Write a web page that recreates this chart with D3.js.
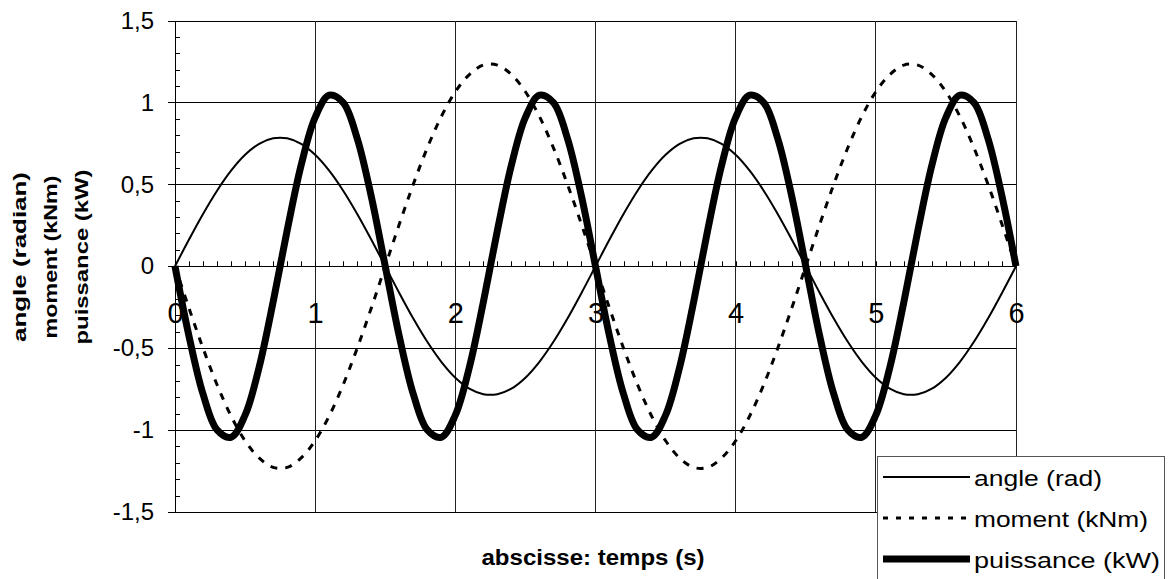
<!DOCTYPE html>
<html>
<head>
<meta charset="utf-8">
<script src="https://cdn.jsdelivr.net/npm/d3@7"></script>
<style>
body { margin: 0; background: #fff; }
text { font-family: "Liberation Sans", Arial, sans-serif; fill: #000; }
</style>
</head>
<body>
<div id="container1"></div>
<script>
// values, one point every 0.1 s
var time = [0, 0.1, 0.2, 0.3, 0.4, 0.5, 0.6, 0.7, 0.8, 0.9,
  1, 1.1, 1.2, 1.3, 1.4, 1.5, 1.6, 1.7, 1.8, 1.9,
  2, 2.1, 2.2, 2.3, 2.4, 2.5, 2.6, 2.7, 2.8, 2.9,
  3, 3.1, 3.2, 3.3, 3.4, 3.5, 3.6, 3.7, 3.8, 3.9,
  4, 4.1, 4.2, 4.3, 4.4, 4.5, 4.6, 4.7, 4.8, 4.9,
  5, 5.1, 5.2, 5.3, 5.4, 5.5, 5.6, 5.7, 5.8, 5.9, 6];

var angle = [0, 0.163, 0.319, 0.461, 0.583, 0.680, 0.747, 0.781, 0.781, 0.747, 0.680, 0.583, 0.461, 0.319, 0.163,
  0, -0.163, -0.319, -0.461, -0.583, -0.680, -0.747, -0.781, -0.781, -0.747, -0.680, -0.583, -0.461, -0.319, -0.163,
  0, 0.163, 0.319, 0.461, 0.583, 0.680, 0.747, 0.781, 0.781, 0.747, 0.680, 0.583, 0.461, 0.319, 0.163,
  0, -0.163, -0.319, -0.461, -0.583, -0.680, -0.747, -0.781, -0.781, -0.747, -0.680, -0.583, -0.461, -0.319, -0.163,
  0];

var moment = [0, -0.256, -0.500, -0.723, -0.914, -1.065, -1.170, -1.228, -1.228, -1.170, -1.065, -0.914, -0.723, -0.500, -0.256,
  0, 0.256, 0.500, 0.723, 0.914, 1.065, 1.170, 1.228, 1.228, 1.170, 1.065, 0.914, 0.723, 0.500, 0.256,
  0, -0.256, -0.500, -0.723, -0.914, -1.065, -1.170, -1.228, -1.228, -1.170, -1.065, -0.914, -0.723, -0.500, -0.256,
  0, 0.256, 0.500, 0.723, 0.914, 1.065, 1.170, 1.228, 1.228, 1.170, 1.065, 0.914, 0.723, 0.500, 0.256,
  0];

var puissance = [0, -0.427, -0.780, -0.999, -1.044, -0.909, -0.617, -0.218, 0.218, 0.617, 0.909, 1.044, 0.999, 0.780, 0.427,
  0, -0.427, -0.780, -0.999, -1.044, -0.909, -0.617, -0.218, 0.218, 0.617, 0.909, 1.044, 0.999, 0.780, 0.427,
  0, -0.427, -0.780, -0.999, -1.044, -0.909, -0.617, -0.218, 0.218, 0.617, 0.909, 1.044, 0.999, 0.780, 0.427,
  0, -0.427, -0.780, -0.999, -1.044, -0.909, -0.617, -0.218, 0.218, 0.617, 0.909, 1.044, 0.999, 0.780, 0.427,
  0];

var seriesNames = ["angle (rad)", "moment (kNm)", "puissance (kW)"];
var yTitleLines = ["angle (radian)", "moment (kNm)", "puissance (kW)"];
var xTitle = "abscisse: temps (s)";
var xTicks = [0, 1, 2, 3, 4, 5, 6];
var yTicks = [-1.5, -1, -0.5, 0, 0.5, 1, 1.5];

var width = 1169,
    height = 579,
    plotL = 175,
    plotR = 1016,
    plotT = 20.5,
    plotB = 512; // plot area box

var svg, xScale, yScale, fr, line;

xScale = d3.scaleLinear().domain([0, 6]).range([plotL, plotR]);
yScale = d3.scaleLinear().domain([-1.5, 1.5]).range([plotB, plotT]);

// french number format: 0,5 and plain minus
fr = d3.formatLocale({decimal: ",", thousands: " ", grouping: [3], currency: ["", " €"], minus: "-"});

svg = d3.select("#container1")
  .append("svg")
  .attr("width", width)
  .attr("height", height)
  .style("background-color", "#fff");

// horizontal gridlines + y labels through the axis
var yAxis = svg.append("g")
  .attr("transform", "translate(168,0)")
  .call(d3.axisLeft(yScale)
    .tickValues(yTicks)
    .tickSizeInner(-(plotR - 168))
    .tickSizeOuter(0)
    .tickPadding(14)
    .tickFormat(fr.format("")));
yAxis.select(".domain").remove();
yAxis.selectAll(".tick line").attr("stroke", "#000").attr("shape-rendering", "crispEdges");
yAxis.selectAll(".tick text")
  .attr("font-size", 24)
  .attr("font-family", "Liberation Sans, Arial, sans-serif");

// vertical gridlines
svg.append("g").selectAll("line").data(xTicks.slice(1))
  .enter().append("line")
    .attr("x1", function(d){ return xScale(d); })
    .attr("x2", function(d){ return xScale(d); })
    .attr("y1", plotT)
    .attr("y2", plotB)
    .attr("stroke", "#222")
    .attr("shape-rendering", "crispEdges");

// left axis line with small ticks inside
svg.append("line")
  .attr("x1", plotL).attr("x2", plotL)
  .attr("y1", plotT).attr("y2", plotB)
  .attr("stroke", "#000").attr("shape-rendering", "crispEdges");
svg.append("g").selectAll("line").data(yScale.ticks(30))
  .enter().append("line")
    .attr("x1", plotL).attr("x2", plotL + 5)
    .attr("y1", function(d){ return Math.round(yScale(d)) + 0.5; })
    .attr("y2", function(d){ return Math.round(yScale(d)) + 0.5; })
    .attr("stroke", "#000");

// small ticks along the zero line
svg.append("g").selectAll("line").data(xScale.ticks(60))
  .enter().append("line")
    .attr("x1", function(d){ return Math.round(xScale(d)) + 0.5; })
    .attr("x2", function(d){ return Math.round(xScale(d)) + 0.5; })
    .attr("y1", yScale(0))
    .attr("y2", yScale(0) - 5)
    .attr("stroke", "#000");

// x labels sit under the zero line
var xAxis = svg.append("g")
  .attr("transform", "translate(0," + yScale(0) + ")")
  .call(d3.axisBottom(xScale)
    .tickValues(xTicks)
    .tickSize(0)
    .tickPadding(36)
    .tickFormat(d3.format("d")));
xAxis.select(".domain").remove();
xAxis.selectAll(".tick text")
  .attr("font-size", 29)
  .attr("font-family", "Liberation Sans, Arial, sans-serif");

// the three curves
line = d3.line()
  .x(function(d, i){ return xScale(time[i]); })
  .y(function(d){ return yScale(d); })
  .curve(d3.curveCatmullRom);

var styles = [
  {data: angle, w: 2, dash: null},
  {data: moment, w: 3, dash: "7,8"},
  {data: puissance, w: 7, dash: null}
];

svg.append("g").selectAll("path").data(styles)
  .enter().append("path")
    .attr("d", function(s){ return line(s.data); })
    .attr("fill", "none")
    .attr("stroke", "#000")
    .attr("stroke-width", function(s){ return s.w; })
    .attr("stroke-dasharray", function(s){ return s.dash; })
    .attr("stroke-linejoin", "round");

// axis titles
svg.append("g").selectAll("text").data(yTitleLines)
  .enter().append("text")
    .attr("transform", function(d, i){ return "translate(" + (26 + i * 31) + ",257) rotate(-90)"; })
    .attr("text-anchor", "middle")
    .attr("font-size", 18)
    .attr("font-weight", "bold")
    .attr("textLength", function(d, i){ return [170, 163, 175][i]; })
    .attr("lengthAdjust", "spacingAndGlyphs")
    .text(function(d){ return d; });

svg.append("text")
  .attr("x", 593)
  .attr("y", 565)
  .attr("text-anchor", "middle")
  .attr("font-size", 22)
  .attr("font-weight", "bold")
  .attr("textLength", 223)
  .attr("lengthAdjust", "spacingAndGlyphs")
  .text(xTitle);

// legend box, drawn over the plot
var legend = svg.append("g").attr("transform", "translate(877,456)");
legend.append("rect")
  .attr("x", 0.5).attr("y", 0.5)
  .attr("width", 287).attr("height", 140)
  .attr("fill", "#fff")
  .attr("stroke", "#555");

var item = legend.selectAll("g.item").data(seriesNames)
  .enter().append("g")
    .attr("class", "item")
    .attr("transform", function(d, i){ return "translate(0," + (21 + i * 41) + ")"; });
item.append("line")
  .attr("x1", 6).attr("x2", 93)
  .attr("y1", 0).attr("y2", 0)
  .attr("stroke", "#000")
  .attr("stroke-width", function(d, i){ return styles[i].w; })
  .attr("stroke-dasharray", function(d, i){ return i === 1 ? "5,8" : null; });
item.append("text")
  .attr("x", 97)
  .attr("y", 9)
  .attr("font-size", 22)
  .attr("textLength", function(d, i){ return [128, 174, 186][i]; })
  .attr("lengthAdjust", "spacingAndGlyphs")
  .text(function(d){ return d; });
</script>
</body>
</html>
